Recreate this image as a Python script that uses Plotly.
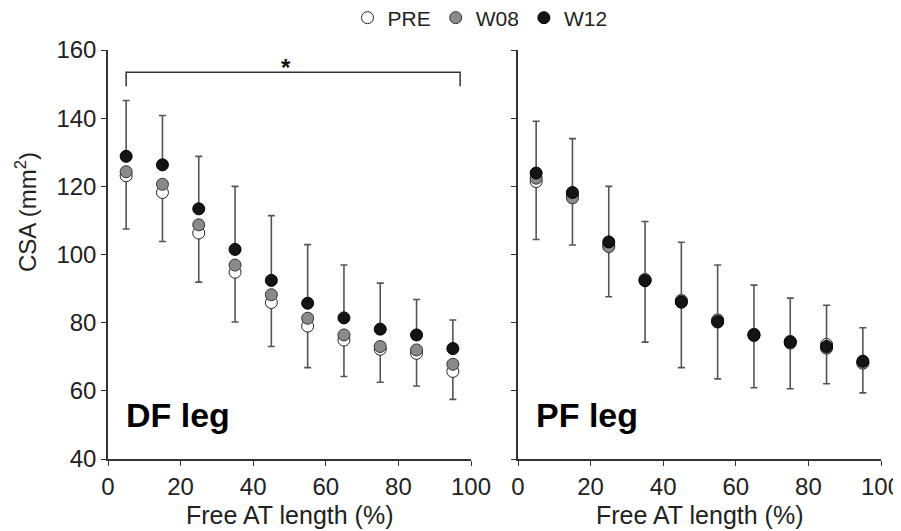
import plotly.graph_objects as go

# ---------------- data ----------------
positions = [5, 15, 25, 35, 45, 55, 65, 75, 85, 95]  # Free AT length (%)

df_pre = [123.1, 118.2, 106.3, 94.8, 85.9, 79.0, 74.9, 72.2, 71.0, 65.7]
df_w08 = [124.3, 120.6, 108.7, 96.9, 88.2, 81.3, 76.4, 73.0, 72.0, 67.8]
df_w12 = [128.8, 126.3, 113.4, 101.5, 92.4, 85.7, 81.4, 78.1, 76.4, 72.4]
df_sd_up = [16.4, 14.5, 15.4, 18.5, 19.0, 17.2, 15.5, 13.5, 10.4, 8.4]    # SD above W12
df_sd_down = [15.6, 14.4, 14.4, 14.6, 12.9, 12.2, 10.7, 9.7, 9.6, 8.2]    # SD below PRE

pf_pre = [121.4, 117.3, 102.6, 92.5, 86.5, 80.8, 76.6, 74.5, 73.6, 68.3]
pf_w08 = [122.4, 116.6, 102.3, 92.7, 86.3, 80.5, 76.2, 74.0, 72.5, 68.1]
pf_w12 = [123.9, 118.2, 103.7, 92.3, 86.0, 80.2, 76.4, 74.3, 73.0, 68.7]
pf_sd_up = [15.2, 15.8, 16.3, 17.4, 17.6, 16.7, 14.6, 12.9, 12.1, 9.8]
pf_sd_down = [17.0, 14.5, 15.0, 18.2, 19.7, 17.3, 15.7, 13.9, 11.5, 8.9]

x_ticks = [0, 20, 40, 60, 80, 100]
y_ticks = [40, 60, 80, 100, 120, 140, 160]
bracket_x = [5, 97]
bracket_y = [149.4, 153.5]

# ---------------- styling ----------------
FONT = "Liberation Sans, Arial, sans-serif"
INK = "#222222"
AXIS = "#333333"
ERR = "#555555"
zeros = [0] * len(positions)

fig = go.Figure()

def add_panel(xa, ya, pre, w08, w12, up, down, show_legend):
    fig.add_trace(go.Scatter(
        x=positions, y=pre, mode="markers", name="PRE", xaxis=xa, yaxis=ya,
        showlegend=show_legend, legendgroup="PRE",
        marker=dict(size=12, color="white", line=dict(color="#222222", width=1)),
        error_y=dict(type="data", symmetric=False, array=zeros, arrayminus=down,
                     color=ERR, thickness=1.6, width=3.5)))
    fig.add_trace(go.Scatter(
        x=positions, y=w08, mode="markers", name="W08", xaxis=xa, yaxis=ya,
        showlegend=show_legend, legendgroup="W08",
        marker=dict(size=12, color="#8a8a8a", line=dict(color="#333333", width=1))))
    fig.add_trace(go.Scatter(
        x=positions, y=w12, mode="markers", name="W12", xaxis=xa, yaxis=ya,
        showlegend=show_legend, legendgroup="W12",
        marker=dict(size=12, color="#141414", line=dict(color="#000000", width=1)),
        error_y=dict(type="data", symmetric=False, array=up, arrayminus=zeros,
                     color=ERR, thickness=1.6, width=3.5)))

add_panel("x", "y", df_pre, df_w08, df_w12, df_sd_up, df_sd_down, True)
add_panel("x2", "y2", pf_pre, pf_w08, pf_w12, pf_sd_up, pf_sd_down, False)

axis_common = dict(showline=True, linecolor=AXIS, linewidth=1.5, ticks="outside",
                   ticklen=5, tickwidth=1.3, tickcolor=AXIS, showgrid=False,
                   zeroline=False, automargin=False, ticklabeloverflow="allow",
                   tickfont=dict(family=FONT, size=24, color=INK))

# the page body adds an 8px offset; target window is 901x531
OFF = 8
W, H = 901 - OFF, 531 - OFF
ML = 108 - OFF          # plot left at window x=108
MT = 50 - OFF           # plot top at window y=50
MB = 531 - 459          # plot bottom at window y=459
MR = 901 - 881          # plot right at window x=881
pw = W - ML - MR
ph = H - MT - MB
split_l = (471 - 108) / pw
split_r = (518 - 108) / pw

fig.update_layout(
    width=W, height=H,
    margin=dict(l=ML, r=MR, t=MT, b=MB, autoexpand=False),
    paper_bgcolor="white", plot_bgcolor="white",
    font=dict(family=FONT, color=INK),
    xaxis=dict(domain=[0, split_l], range=[0, 100], tickvals=x_ticks, **axis_common),
    xaxis2=dict(domain=[split_r, 1], range=[0, 100], tickvals=x_ticks, anchor="y2", **axis_common),
    yaxis=dict(range=[40, 160], tickvals=y_ticks, **axis_common),
    yaxis2=dict(range=[40, 160], tickvals=y_ticks, anchor="x2", showticklabels=False,
                **{k: v for k, v in axis_common.items() if k not in ("tickfont", "ticklabeloverflow")}),
    legend=dict(orientation="h", x=(480 - 108) / pw, xanchor="center",
                y=(459 - 18) / ph, yanchor="middle",
                font=dict(family=FONT, size=21, color=INK), itemwidth=30,
                bgcolor="rgba(0,0,0,0)"),
    showlegend=True,
)

# significance bracket
fig.add_shape(type="path", xref="x", yref="y",
              path=f"M {bracket_x[0]},{bracket_y[0]} L {bracket_x[0]},{bracket_y[1]} "
                   f"L {bracket_x[1]},{bracket_y[1]} L {bracket_x[1]},{bracket_y[0]}",
              line=dict(color=AXIS, width=1.5))
fig.add_annotation(x=49, y=155.0, xref="x", yref="y", text="<b>*</b>", showarrow=False,
                   xanchor="center", yanchor="middle",
                   font=dict(family=FONT, size=24, color="#111111"))

# panel labels
fig.add_annotation(x=4.5, y=53, xref="x", yref="y", text="<b>DF leg</b>", showarrow=False,
                   xanchor="left", yanchor="middle", font=dict(family=FONT, size=34, color="black"))
fig.add_annotation(x=4.5, y=53, xref="x2", yref="y2", text="<b>PF leg</b>", showarrow=False,
                   xanchor="left", yanchor="middle", font=dict(family=FONT, size=34, color="black"))

# axis titles
fig.add_annotation(x=(26 - 108) / pw, y=(459 - 212) / ph, xref="paper", yref="paper",
                   text="CSA (mm<sup>2</sup>)", textangle=-90, showarrow=False,
                   xanchor="center", yanchor="middle", font=dict(family=FONT, size=24, color=INK))
fig.add_annotation(x=50, y=-(515 - 459) / ph, xref="x", yref="paper",
                   text="Free AT length (%)", showarrow=False,
                   xanchor="center", yanchor="middle", font=dict(family=FONT, size=25, color=INK))
fig.add_annotation(x=50, y=-(515 - 459) / ph, xref="x2", yref="paper",
                   text="Free AT length (%)", showarrow=False,
                   xanchor="center", yanchor="middle", font=dict(family=FONT, size=25, color=INK))

fig.write_html("out.html")
